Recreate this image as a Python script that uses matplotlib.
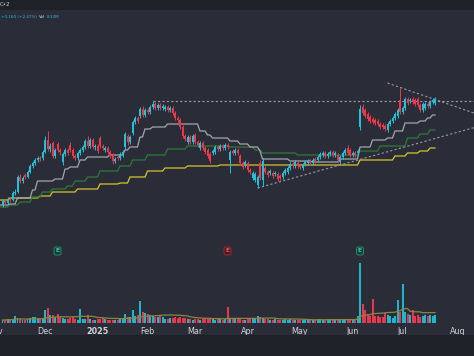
import numpy as np
import pandas as pd
import matplotlib
matplotlib.use("Agg")
import matplotlib.pyplot as plt
import matplotlib.transforms as mtransforms
from matplotlib.patches import Rectangle

# ---------------- data ----------------
holidays = ['2024-11-28', '2024-12-25', '2025-01-01', '2025-01-09', '2025-01-20',
            '2025-02-17', '2025-04-18', '2025-05-26', '2025-06-19', '2025-07-04']
first_date = '2024-11-06'

open_ = [4.54,4.62,4.58,4.66,4.64,4.78,4.80,5.10,5.02,
 5.14,5.10,5.20,5.32,5.38,5.44,5.48,5.48,5.60,5.84,
 5.66,5.78,5.52,5.76,5.64,5.40,5.56,5.64,5.74,
 5.64,5.52,5.48,5.58,5.64,5.70,5.82,5.72,5.84,5.70,
 5.72,5.88,5.72,5.64,5.68,5.60,5.54,5.42,5.50,
 5.48,5.54,5.70,5.92,5.80,5.98,6.20,6.28,6.32,6.46,
 6.34,6.44,6.40,6.50,6.56,6.48,6.54,6.48,6.46,
 6.50,6.44,6.48,6.38,6.28,6.24,6.10,5.92,5.80,5.90,
 5.80,5.94,5.80,5.68,5.78,5.68,5.64,5.56,5.58,
 5.60,5.70,5.66,5.72,5.68,5.74,5.44,5.62,5.58,5.64,
 5.52,5.38,5.34,5.38,5.24,5.08,5.04,4.94,5.38,
 5.04,5.28,5.20,5.18,5.18,5.16,5.16,5.12,5.10,5.18,
 5.20,5.28,5.36,5.32,5.38,5.32,5.28,5.36,5.38,
 5.42,5.38,5.46,5.44,5.50,5.54,5.58,5.52,5.56,5.60,
 5.54,5.54,5.40,5.50,5.58,5.68,5.64,5.54,5.58,
 5.58,6.10,6.50,6.44,6.36,6.30,6.26,6.24,6.22,6.16,
 6.14,6.12,6.04,6.16,6.22,6.28,6.32,6.64,6.40,
 6.48,6.66,6.62,6.66,6.64,6.66,6.54,6.44,6.48,6.56,
 6.52,6.60,6.58]

close = [4.62,4.58,4.66,4.64,4.78,4.80,5.10,5.02,5.08,
 5.10,5.20,5.32,5.38,5.44,5.48,5.46,5.60,5.84,5.66,
 5.72,5.52,5.64,5.64,5.60,5.56,5.64,5.58,5.64,
 5.52,5.48,5.58,5.64,5.70,5.82,5.72,5.84,5.70,5.72,
 5.62,5.72,5.68,5.68,5.60,5.52,5.42,5.46,5.48,
 5.56,5.60,5.96,5.80,5.90,6.20,6.28,6.22,6.46,6.34,
 6.44,6.40,6.50,6.56,6.48,6.54,6.48,6.52,6.50,
 6.44,6.48,6.38,6.28,6.24,6.10,5.92,5.86,5.90,5.80,
 5.92,5.80,5.74,5.78,5.68,5.60,5.52,5.42,5.62,
 5.70,5.66,5.72,5.68,5.74,5.70,5.60,5.58,5.64,5.58,
 5.38,5.30,5.40,5.24,5.20,5.18,5.16,5.10,5.08,
 5.42,5.20,5.14,5.22,5.12,5.18,5.06,5.08,5.18,5.24,
 5.28,5.36,5.32,5.40,5.32,5.30,5.34,5.40,5.42,
 5.38,5.44,5.42,5.50,5.56,5.58,5.52,5.56,5.60,5.54,
 5.58,5.44,5.50,5.58,5.64,5.58,5.54,5.58,5.54,
 5.62,6.46,6.38,6.32,6.26,6.22,6.20,6.18,6.16,6.10,
 6.10,6.06,6.16,6.22,6.28,6.36,6.44,6.40,6.48,
 6.66,6.58,6.64,6.60,6.56,6.54,6.44,6.56,6.56,6.52,
 6.60,6.64,6.66]

high = [4.66,4.64,4.70,4.70,4.82,4.86,5.14,5.16,5.12,
 5.18,5.24,5.36,5.42,5.48,5.52,5.52,5.64,5.92,6.02,
 5.78,5.82,5.68,5.80,5.68,5.60,5.68,5.68,5.80,
 5.68,5.56,5.62,5.68,5.74,5.86,5.92,5.88,5.88,5.76,
 5.76,5.92,5.76,5.72,5.72,5.64,5.58,5.50,5.54,
 5.60,5.64,6.00,5.96,5.94,6.24,6.32,6.32,6.50,6.52,
 6.48,6.48,6.54,6.62,6.60,6.58,6.58,6.56,6.54,
 6.54,6.52,6.52,6.42,6.32,6.28,6.14,5.96,5.94,5.94,
 5.96,5.98,5.84,5.82,5.82,5.72,5.68,5.60,5.66,
 5.74,5.74,5.76,5.76,5.78,5.78,5.64,5.66,5.68,5.68,
 5.56,5.42,5.44,5.42,5.28,5.22,5.20,5.14,5.44,
 5.48,5.32,5.24,5.26,5.22,5.22,5.20,5.16,5.22,5.28,
 5.32,5.40,5.40,5.44,5.42,5.36,5.38,5.44,5.46,
 5.46,5.48,5.50,5.54,5.60,5.62,5.62,5.60,5.64,5.64,
 5.62,5.58,5.54,5.62,5.68,5.74,5.68,5.62,5.62,
 5.66,6.54,6.56,6.48,6.40,6.34,6.30,6.28,6.26,6.20,
 6.18,6.16,6.20,6.26,6.32,6.40,6.48,6.88,6.52,
 6.70,6.70,6.68,6.70,6.68,6.70,6.58,6.60,6.60,6.60,
 6.64,6.68,6.70]

low = [4.50,4.54,4.56,4.60,4.62,4.74,4.78,4.98,4.98,
 5.06,5.08,5.18,5.28,5.34,5.40,5.42,5.44,5.58,5.62,
 5.60,5.48,5.48,5.60,5.54,5.34,5.52,5.54,5.60,
 5.48,5.44,5.44,5.54,5.60,5.66,5.68,5.68,5.66,5.64,
 5.58,5.68,5.64,5.60,5.56,5.48,5.36,5.38,5.44,
 5.44,5.50,5.66,5.74,5.76,5.94,6.16,6.18,6.28,6.30,
 6.30,6.36,6.36,6.46,6.44,6.44,6.44,6.44,6.42,
 6.40,6.40,6.34,6.24,6.20,6.06,5.88,5.82,5.76,5.76,
 5.76,5.76,5.70,5.64,5.64,5.56,5.48,5.38,5.54,
 5.56,5.62,5.62,5.64,5.64,5.66,5.18,5.54,5.54,5.54,
 5.34,5.26,5.30,5.20,5.16,5.04,5.00,4.88,5.04,
 4.92,5.16,5.10,5.14,5.08,5.12,5.02,5.04,5.06,5.14,
 5.16,5.24,5.28,5.28,5.28,5.26,5.24,5.32,5.34,
 5.34,5.34,5.38,5.40,5.46,5.50,5.48,5.48,5.52,5.50,
 5.50,5.38,5.36,5.46,5.54,5.54,5.50,5.50,5.50,
 5.54,6.04,6.34,6.28,6.22,6.18,6.16,6.14,6.12,6.06,
 6.06,6.02,6.00,6.12,6.18,6.24,6.28,6.36,6.36,
 6.44,6.54,6.58,6.56,6.52,6.50,6.40,6.40,6.44,6.48,
 6.48,6.56,6.54]

volume_m = [3,3,4,3,4,7,5,4,3,
 3,4,5,6,6,4,4,5,13,15,
 8,8,6,9,6,5,4,4,5,
 6,4,3,14,4,4,8,4,3,3,
 4,4,5,4,3,3,3,3,3,
 4,4,9,6,6,13,7,8,22,11,
 10,9,8,7,6,6,8,6,4,
 4,5,5,6,5,6,5,5,4,4,
 3,4,4,3,4,5,4,5,4,
 3,4,4,3,4,16,5,4,4,5,
 4,3,3,4,4,5,5,7,6,
 5,4,4,3,3,4,3,3,3,4,
 3,4,3,3,3,3,3,3,3,
 3,3,3,4,4,3,3,4,4,4,
 4,3,4,4,3,4,3,3,4,
 7,60,19,13,9,7,24,7,7,6,
 6,10,8,7,5,7,23,11,39,
 11,9,8,13,7,8,6,7,8,7,
 8,7,8]

# stepped moving-average lines (change date, level)
grey_dates = ['2024-11-05','2024-11-11','2024-11-14','2024-11-22','2024-11-26','2024-12-06',
              '2024-12-12','2024-12-16','2024-12-20','2024-12-26','2025-01-10','2025-01-21',
              '2025-01-23','2025-01-29','2025-01-31','2025-02-05','2025-02-13','2025-03-05',
              '2025-03-10','2025-03-12','2025-03-21','2025-03-27','2025-04-02','2025-04-08',
              '2025-04-09','2025-04-25','2025-05-08','2025-05-23','2025-06-05','2025-06-12',
              '2025-06-23','2025-06-26','2025-07-02','2025-07-11','2025-07-16','2025-07-18']
grey_levels = [4.54,4.56,4.68,4.84,5.02,5.06,5.26,5.30,5.44,5.50,5.54,5.64,5.70,5.90,6.06,
               6.10,6.16,6.02,5.94,5.88,5.82,5.76,5.70,5.62,5.46,5.42,5.40,5.46,5.70,5.84,
               5.88,6.02,6.18,6.22,6.28,6.34]

green_dates = ['2024-11-05','2024-11-11','2024-11-15','2024-11-22','2024-11-29','2024-12-05',
               '2024-12-13','2024-12-18','2024-12-26','2025-01-03','2025-01-16','2025-01-24',
               '2025-02-03','2025-02-13','2025-02-26','2025-03-21','2025-04-04','2025-04-09',
               '2025-04-30','2025-06-05','2025-06-17','2025-07-03','2025-07-11','2025-07-17']
green_levels = [4.50,4.54,4.60,4.70,4.80,4.86,4.92,5.02,5.10,5.22,5.32,5.44,5.54,5.66,5.72,
                5.70,5.64,5.58,5.54,5.62,5.72,5.88,5.96,6.04]

yellow_dates = ['2024-11-05','2024-11-11','2024-11-27','2024-12-05','2024-12-19','2025-01-03',
                '2025-01-16','2025-01-23','2025-02-03','2025-02-12','2025-02-26','2025-03-17',
                '2025-06-05','2025-06-26','2025-07-03','2025-07-11','2025-07-17']
yellow_levels = [4.64,4.68,4.72,4.80,4.86,4.96,4.98,5.10,5.22,5.28,5.32,5.34,5.44,5.52,5.58,
                 5.62,5.68]

# drawings
resistance_start, resistance_level = '2025-02-05', 6.62
upper_trend = [('2025-06-23', 6.98), ('2025-07-21', 6.65)]
lower_trend = [('2025-04-07', 4.88), ('2025-07-21', 5.87)]

earn_dates = ['2024-12-09', '2025-03-20', '2025-06-05']
earn_positive = [True, False, True]

header_top = "C•2"
chg_text = "+0.160 (+2.47%)"
vol_label, vol_value = "Vol", "8.33M"

# ---------------- styling ----------------
BG = '#2a2d37'
BAND = '#1f2128'
UP = '#22c3da'
DN = '#f0384a'
TXT = '#d1d4dc'

cal = pd.bdate_range('2024-11-01', '2025-08-29', freq='C', holidays=holidays)
pos = pd.Series(np.arange(len(cal)), index=cal)

def ix(d):
    return int(pos[pd.Timestamp(d)])

o = np.array(open_); c = np.array(close)
h = np.maximum(np.array(high), np.maximum(o, c))
l = np.minimum(np.array(low), np.minimum(o, c))
n = len(c)
x = ix(first_date) + np.arange(n)
last_x = x[-1]
up = c >= o
cols = np.where(up, UP, DN)

fig = plt.figure(figsize=(4.74, 3.56), dpi=100)
fig.patch.set_facecolor(BG)

X0, X1 = 2.0, 191.6
ax = fig.add_axes([0, 0, 1, 1])
ax.set_facecolor('none')
ax.set_xlim(X0, X1)
ax.set_ylim(1.52, 8.64)
ax.axis('off')

# bands
fig.patches.append(Rectangle((0, 0), 1, 21/356, transform=fig.transFigure,
                             facecolor=BAND, edgecolor='none', zorder=0))
fig.patches.append(Rectangle((0, 1-10/356), 1, 10/356, transform=fig.transFigure,
                             facecolor=BAND, edgecolor='none', zorder=0))

# step MAs
def step_series(dates, levels, end):
    starts = [ix(d) for d in dates] + [end + 1]
    xs, ys = [], []
    for k in range(len(levels)):
        for t in range(starts[k], starts[k+1]):
            xs.append(t); ys.append(levels[k])
    return np.array(xs), np.array(ys)

for dts, lv, col in [(yellow_dates, yellow_levels, '#d8c32c'),
                     (green_dates, green_levels, '#2a7a3a'),
                     (grey_dates, grey_levels, '#a3a6ae')]:
    xs, ys = step_series(dts, lv, last_x)
    ax.plot(xs, ys, color=col, lw=0.9, zorder=2, solid_joinstyle='miter')

# dashed drawings
dcol = '#9a9da6'
ax.plot([ix(resistance_start), X1], [resistance_level]*2, color=dcol, lw=0.8,
        ls=(0, (2, 2)), zorder=3)
for (d1, p1), (d2, p2) in [upper_trend, lower_trend]:
    a, b = ix(d1), ix(d2)
    slope = (p2 - p1) / (b - a)
    ax.plot([a, X1], [p1, p1 + slope*(X1 - a)], color=dcol, lw=0.8,
            ls=(0, (2, 2)), zorder=3)

# candles
ax.vlines(x, l, h, colors=cols, lw=0.7, zorder=4)
body_lo = np.minimum(o, c)
body_h = np.maximum(np.abs(c - o), 0.012)
ax.bar(x, body_h, bottom=body_lo, width=0.75, color=cols, linewidth=0, zorder=5)

# earnings markers
bt = mtransforms.blended_transform_factory(ax.transData, ax.transAxes)
for d, pos_ in zip(earn_dates, earn_positive):
    fc = '#173a35' if pos_ else '#3d1f25'
    ec = '#1f8a75' if pos_ else '#a3252f'
    tc = '#3fc7a5' if pos_ else '#f0505c'
    ax.text(ix(d), 1 - 251/356, "E", transform=bt, ha='center', va='center',
            fontsize=4.2, color=tc, fontweight='bold',
            bbox=dict(boxstyle='round,pad=0.25,rounding_size=0.3', fc=fc, ec=ec, lw=0.7))

# volume pane
axv = fig.add_axes([0, 33/356, 1, 80/356])
axv.set_facecolor('none')
axv.set_xlim(X0, X1)
axv.set_ylim(0, 80)
axv.axis('off')
vcols = np.where(up, '#1fb6cc', '#e5384a')
axv.bar(x, volume_m, width=0.8, color=vcols, linewidth=0, zorder=2)
vma = pd.Series(volume_m, dtype=float).rolling(20, min_periods=1).mean()
axv.plot(x, vma.values, color='#8c8540', lw=0.9, zorder=3)

# month labels
months = pd.Series(cal).groupby([cal.year, cal.month]).first()
for d in months:
    k = ix(d)
    if k > X1:
        continue
    lab = str(d.year) if d.month == 1 else d.strftime('%b')
    ax.text(k, 1 - 331/356, lab, transform=bt, ha='center', va='center',
            fontsize=5.8, color=TXT, family='DejaVu Sans',
            fontweight='bold' if d.month == 1 else 'normal')

# header texts
fig.text(0.0, 1 - 5/356, header_top, fontsize=4.0, color=TXT, va='center', ha='left')
fig.text(1/474, 1 - 17.5/356, chg_text, fontsize=3.0, color=UP, va='center', ha='left')
fig.text(38.5/474, 1 - 17.5/356, vol_label, fontsize=3.0, color=TXT, va='center', ha='left')
fig.text(46.5/474, 1 - 17.5/356, vol_value, fontsize=3.0, color=UP, va='center', ha='left')

fig.savefig('out.png', dpi=100, facecolor=BG)
